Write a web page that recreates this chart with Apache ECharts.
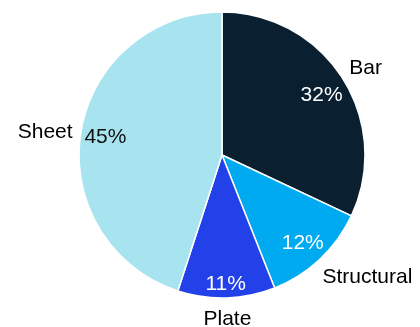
<!DOCTYPE html>
<html>
<head>
<meta charset="utf-8">
<script src="https://cdn.jsdelivr.net/npm/echarts@6/dist/echarts.min.js"></script>
<style>html,body{margin:0;padding:0;background:#fff;}#c{width:420px;height:327px;}</style>
</head>
<body>
<div id="c"></div>
<script>
const categories = ['Bar', 'Structural', 'Plate', 'Sheet'];
const values = [32, 12, 11, 45];
const sliceColors = ['#0a1f2f', '#00aaf0', '#2341e8', '#a8e4ef'];
const pctColors = ['#ffffff', '#ffffff', '#ffffff', '#111111'];
// per-label fine placement nudges [dx, dy] in px
const pctNudge = [[0, 3], [0, 2], [0, 11], [0, 1]];
const nameNudge = [[-2.5, 6], [27, -4], [0, -9], [-6, 4]];

const chart = echarts.init(document.getElementById('c'), null, {renderer: 'canvas'});
const font = 'Liberation Sans, Arial, sans-serif';
const center = [222, 155];

function nudgeLabel(nudge, extra) {
  const dx = nudge[0], dy = nudge[1];
  const lab = Object.assign({}, extra);
  if (dx !== 0) lab.padding = [0, dx < 0 ? -2 * dx : 0, 0, dx > 0 ? 2 * dx : 0];
  if (dy !== 0) lab.lineHeight = Math.abs(dy) * 2;
  return lab;
}
function wrapText(t, dy) {
  if (dy > 0) return '\n' + t;
  if (dy < 0) return t + '\n';
  return t;
}

const mainData = categories.map((n, i) => ({name: n, value: values[i], itemStyle: {color: sliceColors[i]}}));
const pctData = categories.map((n, i) => ({
  name: n, value: values[i],
  label: Object.assign(nudgeLabel(pctNudge[i], {color: pctColors[i]}),
    {formatter: wrapText(values[i] + '%', pctNudge[i][1])})
}));
const nameData = categories.map((n, i) => ({
  name: n, value: values[i],
  label: Object.assign(nudgeLabel(nameNudge[i], {}),
    {formatter: wrapText(n, nameNudge[i][1])})
}));

chart.setOption({
  animation: false,
  series: [
    {
      type: 'pie', center: center, radius: [0, 143], startAngle: 90, clockwise: true,
      data: mainData, label: {show: false}, labelLine: {show: false},
      itemStyle: {borderColor: '#ffffff', borderWidth: 1.5},
      emphasis: {disabled: true}, silent: true
    },
    {
      type: 'pie', center: center, radius: [70, 160], startAngle: 90, clockwise: true,
      data: pctData, silent: true, emphasis: {disabled: true},
      avoidLabelOverlap: false, labelLayout: {hideOverlap: false},
      itemStyle: {color: 'rgba(0,0,0,0)', borderWidth: 0},
      label: {show: true, position: 'inside', fontFamily: font, fontSize: 21},
      labelLine: {show: false}
    },
    {
      type: 'pie', center: center, radius: [150, 190], startAngle: 90, clockwise: true,
      data: nameData, silent: true, emphasis: {disabled: true},
      avoidLabelOverlap: false, labelLayout: {hideOverlap: false},
      itemStyle: {color: 'rgba(0,0,0,0)', borderWidth: 0},
      label: {show: true, position: 'inside', fontFamily: font, fontSize: 21, color: '#000000'},
      labelLine: {show: false}
    }
  ]
});
</script>
</body>
</html>
